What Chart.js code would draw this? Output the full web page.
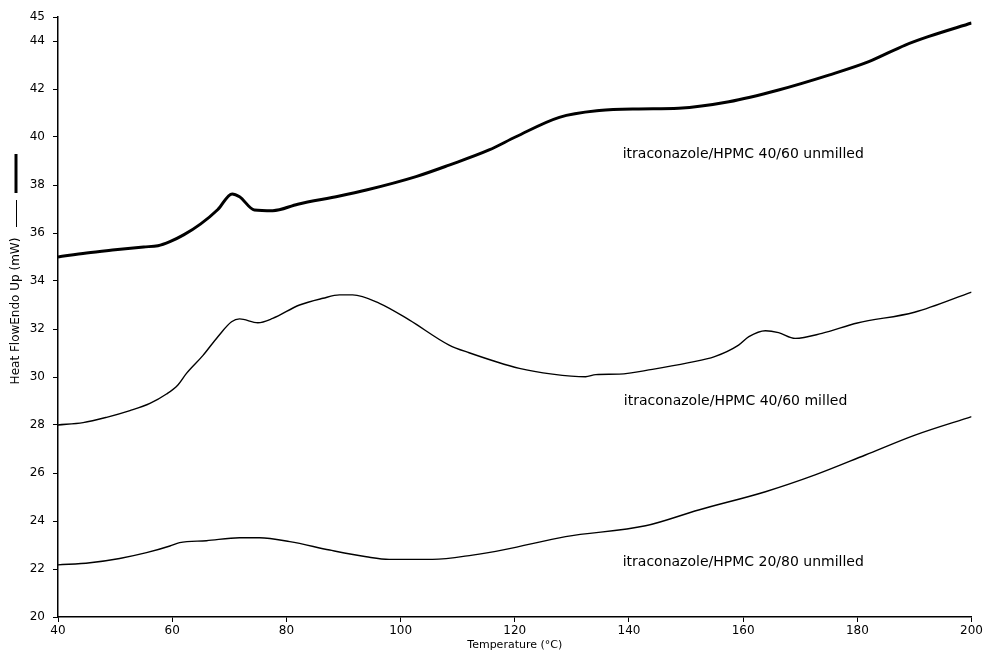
<!DOCTYPE html>
<html>
<head>
<meta charset="utf-8">
<script src="https://cdn.jsdelivr.net/npm/chart.js@4/dist/chart.umd.min.js"></script>
<style>
  body { margin: 0; background: #fff; }
  #wrap { width: 985px; height: 654px; }
</style>
</head>
<body>
<div id="wrap"><canvas id="dsc" width="985" height="654"></canvas></div>
<script>
// DSC traces (temperature in C, heat flow in mW)
const tempUnmilled4060 = [40, 45, 50, 55, 57.5, 59.6, 62, 65, 68, 70.5, 71.8, 74.4, 77.6, 82, 89.3, 94, 102.7, 108.5, 115.5, 120.2, 127.8, 134.8, 141.7, 148.7, 157.5, 166.2, 175, 182, 188.4, 192.4, 200];
const heatUnmilled4060 = [35.0, 35.17, 35.3, 35.42, 35.47, 35.64, 35.92, 36.38, 36.98, 37.63, 37.51, 36.96, 36.93, 37.2, 37.54, 37.79, 38.35, 38.83, 39.46, 40.01, 40.82, 41.10, 41.17, 41.2, 41.47, 41.96, 42.58, 43.14, 43.83, 44.18, 44.75];

const tempMilled4060 = [40, 44.4, 48.5, 52.6, 56.1, 59, 61, 62.5, 65.4, 68, 70.4, 71.8, 75, 77.6, 82.3, 86.4, 89.3, 91.6, 96.3, 101.5, 108.5, 112, 120.8, 126.6, 132.4, 134.2, 138.3, 144.1, 150.5, 155, 159.2, 161, 163.9, 166.2, 169.1, 173.8, 180, 190, 200];
const heatMilled4060 = [28.0, 28.1, 28.32, 28.6, 28.9, 29.29, 29.67, 30.15, 30.9, 31.68, 32.3, 32.42, 32.26, 32.44, 33.0, 33.28, 33.42, 33.42, 33.07, 32.38, 31.33, 31.01, 30.36, 30.12, 30.01, 30.1, 30.12, 30.32, 30.6, 30.85, 31.33, 31.68, 31.93, 31.85, 31.61, 31.82, 32.25, 32.7, 33.54];

const tempUnmilled2080 = [40, 45.6, 50.8, 55.5, 59.6, 61.3, 66, 71.8, 75.3, 80.6, 87.6, 94, 98, 105.6, 112.6, 118.4, 128.9, 142.9, 152.2, 163.9, 172.6, 181.4, 190.1, 200];
const heatUnmilled2080 = [22.17, 22.26, 22.44, 22.68, 22.96, 23.1, 23.18, 23.3, 23.3, 23.14, 22.79, 22.51, 22.4, 22.4, 22.58, 22.82, 23.35, 23.8, 24.46, 25.22, 25.92, 26.75, 27.58, 28.35];

const seriesNames = ['itraconazole/HPMC 40/60 unmilled', 'itraconazole/HPMC 40/60 milled', 'itraconazole/HPMC 20/80 unmilled'];
// where each curve label sits: [temperature, heat flow] of the text baseline start
const labelAnchors = [[138.9, 39.12], [139.1, 28.83], [138.9, 22.12]];

const yTicks = [20, 22, 24, 26, 28, 30, 32, 34, 36, 38, 40, 42, 44, 45];
const xTitle = 'Temperature (°C)';
const yTitle = 'Heat FlowEndo Up (mW)';

const FONT = 'DejaVu Sans';

function toPoints(xs, ys) {
  return xs.map((x, i) => ({ x: x, y: ys[i] }));
}

const decorations = {
  id: 'decorations',
  afterDraw(chart) {
    const ctx = chart.ctx;
    const xs = chart.scales.x, ys = chart.scales.y;
    ctx.save();
    ctx.fillStyle = '#000';
    ctx.strokeStyle = '#000';

    // curve labels
    ctx.font = '14px "' + FONT + '"';
    ctx.textAlign = 'left';
    ctx.textBaseline = 'alphabetic';
    seriesNames.forEach((name, i) => {
      const a = labelAnchors[i];
      ctx.fillText(name, xs.getPixelForValue(a[0]), ys.getPixelForValue(a[1]));
    });

    // y axis title, rotated, plus the two line-style marks above it
    ctx.translate(16, 311);
    ctx.rotate(-Math.PI / 2);
    ctx.font = '12px "' + FONT + '"';
    ctx.textAlign = 'center';
    ctx.textBaseline = 'middle';
    ctx.fillText(yTitle, 0, 0);
    ctx.restore();

    ctx.save();
    ctx.strokeStyle = '#000';
    ctx.lineWidth = 1;
    ctx.beginPath();
    ctx.moveTo(16.5, 200);
    ctx.lineTo(16.5, 227);
    ctx.stroke();
    ctx.lineWidth = 3;
    ctx.beginPath();
    ctx.moveTo(16, 154);
    ctx.lineTo(16, 193);
    ctx.stroke();
    ctx.restore();
  }
};

const ctx = document.getElementById('dsc').getContext('2d');
new Chart(ctx, {
  type: 'line',
  data: {
    datasets: [
      { label: seriesNames[0], data: toPoints(tempUnmilled4060, heatUnmilled4060), borderColor: '#000', borderWidth: 3, pointRadius: 0, cubicInterpolationMode: 'monotone' },
      { label: seriesNames[1], data: toPoints(tempMilled4060, heatMilled4060), borderColor: '#000', borderWidth: 1.4, pointRadius: 0, cubicInterpolationMode: 'monotone' },
      { label: seriesNames[2], data: toPoints(tempUnmilled2080, heatUnmilled2080), borderColor: '#000', borderWidth: 1.4, pointRadius: 0, cubicInterpolationMode: 'monotone' }
    ]
  },
  options: {
    responsive: false,
    animation: false,
    layout: { padding: { top: 17, right: 12, left: 0, bottom: 0 } },
    plugins: {
      legend: { display: false },
      tooltip: { enabled: false }
    },
    scales: {
      x: {
        type: 'linear',
        min: 40,
        max: 200,
        ticks: { stepSize: 20, color: '#000', font: { family: FONT, size: 12 }, padding: 2 },
        grid: { drawOnChartArea: false, tickLength: 5, color: '#000' },
        border: { color: '#000', width: 1.5 },
        title: { display: true, text: xTitle, color: '#000', font: { family: FONT, size: 11 }, padding: { top: 0, bottom: 2 } },
        afterFit(scale) { scale.height = 37; }
      },
      y: {
        type: 'linear',
        min: 20,
        max: 45,
        afterBuildTicks(scale) { scale.ticks = yTicks.map(v => ({ value: v })); },
        ticks: { color: '#000', font: { family: FONT, size: 12 }, padding: 8 },
        grid: { drawOnChartArea: false, tickLength: 5, color: '#000' },
        border: { color: '#000', width: 1.5 },
        afterFit(scale) { scale.width = 58; }
      }
    }
  },
  plugins: [decorations]
});
</script>
</body>
</html>
